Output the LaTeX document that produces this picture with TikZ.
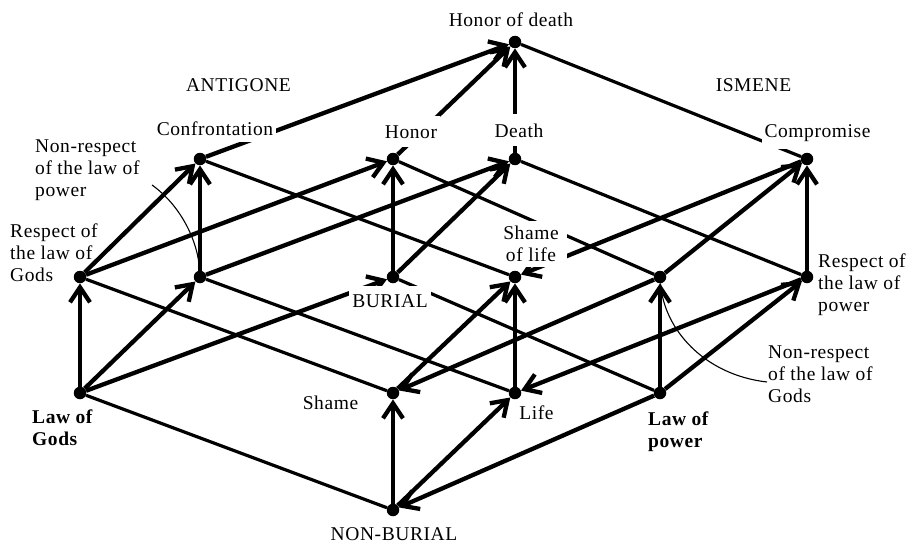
\documentclass[tikz,border=0pt]{standalone}
\usepackage{fontspec}
\setmainfont{Liberation Serif}[LetterSpace=3]
\usetikzlibrary{arrows.meta}

\begin{document}
\begin{tikzpicture}[x=1pt,y=-1pt,
    dot/.style={circle,fill=black,inner sep=0pt,minimum size=12.5pt},
    arr/.style={line width=4.3pt,-{Straight Barb[length=15pt,width=20pt]}},
    neg/.style={line width=3.2pt},
    note/.style={line width=1.1pt},
    txt/.style={font=\fontsize{19.5}{22}\selectfont,inner sep=0pt},
    cut/.style={txt,fill=white,inner xsep=3pt,inner ysep=7pt},
    law/.style={txt,font=\fontsize{19.5}{22}\selectfont\bfseries,align=left}]
      \useasboundingbox (0,0) rectangle (910,543);
      % points of the lattice
      \node[dot](HD) at (515,42) {};
      \node[dot](Conf) at (200,159) {};
      \node[dot](Hon) at (393,159) {};
      \node[dot](Dea) at (515,159) {};
      \node[dot](Comp) at (807,159) {};
      \node[dot](RG) at (80,277) {};
      \node[dot](NRP) at (200,277) {};
      \node[dot](Bur) at (393,277) {};
      \node[dot](SoL) at (515,277) {};
      \node[dot](NRG) at (660,277) {};
      \node[dot](RP) at (807,277) {};
      \node[dot](LG) at (80,393) {};
      \node[dot](Sh) at (393,393) {};
      \node[dot](Li) at (515,393) {};
      \node[dot](LP) at (660,393) {};
      \node[dot](NB) at (393,510) {};
      % thin lines
      \draw[neg](NB)--(LG) (Sh)--(RG) (Li)--(NRP) (LP)--(Bur);
      \draw[neg](SoL)--(Conf) (NRG)--(Hon) (RP)--(Dea) (Comp)--(HD);
      % vertical arrows
      \draw[arr](NB)--(Sh);
      \draw[arr](LG)--(RG);
      \draw[arr](Li)--(SoL);
      \draw[arr](LP)--(NRG);
      \draw[arr](NRP)--(Conf);
      \draw[arr](Bur)--(Hon);
      \draw[arr](RP)--(Comp);
      \draw[arr](Dea)--(HD);
      % steep arrows
      \draw[arr](NB)--(Li);
      \draw[arr](LG)--(NRP);
      \draw[arr](Sh)--(SoL);
      \draw[arr](LP)--(RP);
      \draw[arr](RG)--(Conf);
      \draw[arr](Bur)--(Dea);
      \draw[arr](NRG)--(Comp);
      \draw[arr](Hon)--(HD);
      % shallow arrows
      \draw[arr](LG)--(Bur);
      \draw[arr](RG)--(Hon);
      \draw[arr](NRP)--(Dea);
      \draw[arr](Conf)--(HD);
      \draw[arr](LP)--(NB);
      \draw[arr](NRG)--(Sh);
      \draw[arr](RP)--(Li);
      \draw[arr](Comp)--(SoL);
      % pointers
      \coordinate(nrp0) at (152,185);
      \coordinate(nrg0) at (767,382);
      \draw[note](nrp0) .. controls (180,205) and (198,240) .. (NRP);
      \draw[note](NRG) .. controls (664,330) and (705,375) .. (nrg0);
      % labels
      \node[txt,anchor=base](lHD) at (511,27) {Honor of death};
      \node[txt,anchor=base](lAnt) at (238.5,91) {ANTIGONE};
      \node[txt,anchor=base](lIsm) at (753.5,91) {ISMENE};
      \node[cut,anchor=base](lConf) at (215,135) {Confrontation};
      \node[cut,anchor=base,inner ysep=9pt](lHon) at (411,138) {Honor};
      \node[cut,anchor=base,inner ysep=9pt](lDea) at (519,137) {Death};
      \node[cut,anchor=base,inner ysep=8pt](lComp) at (817.5,137) {Compromise};
      \node[txt,align=left,anchor=west](lNRP) at (35,170.5) {Non-respect\\of the law of\\power};
      \node[txt,align=left,anchor=west](lRG) at (10,253) {Respect of\\the law of\\Gods};
      \node[cut,anchor=base,inner ysep=8pt](lBur) at (390,307) {BURIAL};
      \node[cut,align=center,inner xsep=8pt,inner ysep=5pt](lSoL) at (531,244.3) {Shame\\of life};
      \node[txt,align=left,anchor=west](lRP) at (818,284.4) {Respect of\\the law of\\power};
      \node[txt,align=left,anchor=west](lNRG) at (768,374.5) {Non-respect\\of the law of\\Gods};
      \node[txt,anchor=base](lSh) at (330.5,409) {Shame};
      \node[txt,anchor=base](lLi) at (536.5,419) {Life};
      \node[law,anchor=west](lLG) at (32,428) {Law of\\Gods};
      \node[law,anchor=west](lLP) at (648,432) {Law of\\power};
      \node[txt,anchor=base](lNB) at (394,540) {NON-BURIAL};
\end{tikzpicture}
\end{document}
